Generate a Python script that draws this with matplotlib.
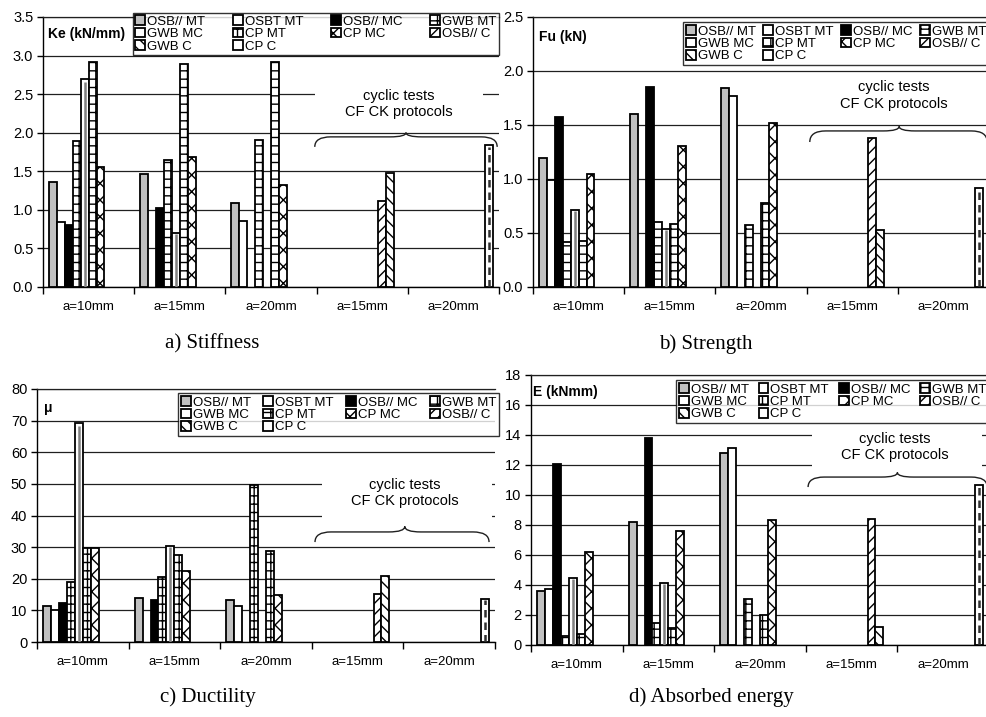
import numpy as np
import matplotlib
matplotlib.use("Agg")
import matplotlib.pyplot as plt
from matplotlib.path import Path
from matplotlib.patches import PathPatch, Rectangle

plt.rcParams['font.family'] = ['Liberation Sans', 'DejaVu Sans']
plt.rcParams['hatch.linewidth'] = 1.0

nan = np.nan
categories = ['a=10mm', 'a=15mm', 'a=20mm', 'a=15mm', 'a=20mm']
series = ['OSB// MT', 'OSBT MT', 'OSB// MC', 'GWB MT', 'GWB MC',
          'CP MT', 'CP MC', 'OSB// C', 'GWB C', 'CP C']

stiffness = [
    [1.36, 1.47, 1.09, nan, nan],
    [0.84, nan, 0.85, nan, nan],
    [0.80, 1.02, nan, nan, nan],
    [1.89, 1.64, 1.91, nan, nan],
    [2.70, 0.70, nan, nan, nan],
    [2.92, 2.89, 2.92, nan, nan],
    [1.56, 1.68, 1.32, nan, nan],
    [nan, nan, nan, 1.11, nan],
    [nan, nan, nan, 1.48, nan],
    [nan, nan, nan, nan, 1.84],
]
strength = [
    [1.19, 1.60, 1.84, nan, nan],
    [0.99, nan, 1.77, nan, nan],
    [1.57, 1.85, nan, nan, nan],
    [0.42, 0.60, 0.57, nan, nan],
    [0.71, 0.54, nan, nan, nan],
    [0.43, 0.58, 0.78, nan, nan],
    [1.05, 1.31, 1.52, nan, nan],
    [nan, nan, nan, 1.38, nan],
    [nan, nan, nan, 0.53, nan],
    [nan, nan, nan, nan, 0.92],
]
ductility = [
    [11.3, 13.9, 13.2, nan, nan],
    [10.0, nan, 11.4, nan, nan],
    [12.4, 13.2, nan, nan, nan],
    [19.1, 20.5, 49.5, nan, nan],
    [69.2, 30.4, nan, nan, nan],
    [29.6, 27.6, 28.9, nan, nan],
    [29.6, 22.4, 14.9, nan, nan],
    [nan, nan, nan, 15.1, nan],
    [nan, nan, nan, 20.9, nan],
    [nan, nan, nan, nan, 13.6],
]
energy = [
    [3.62, 8.18, 12.78, nan, nan],
    [3.73, nan, 13.11, nan, nan],
    [12.04, 13.82, nan, nan, nan],
    [0.60, 1.50, 3.04, nan, nan],
    [4.49, 4.11, nan, nan, nan],
    [0.71, 1.16, 2.02, nan, nan],
    [6.18, 7.62, 8.33, nan, nan],
    [nan, nan, nan, 8.38, nan],
    [nan, nan, nan, 1.22, nan],
    [nan, nan, nan, nan, 10.67],
]

ylabels = ['Ke (kN/mm)', 'Fu (kN)', '\u03bc', 'E (kNmm)']
captions = ['a) Stiffness', 'b) Strength', 'c) Ductility', 'd) Absorbed energy']
yticks = [np.arange(0, 3.51, 0.5), np.arange(0, 2.51, 0.5),
          np.arange(0, 81, 10), np.arange(0, 18.1, 2)]
yfmt = ['{:.1f}', '{:.1f}', '{:.0f}', '{:.0f}']
cyclic_text = 'cyclic tests\nCF CK protocols'

styles = [('#c0c0c0', ''), ('white', ''), ('black', ''), ('white', '++'),
          ('white', ''), ('white', '++'), ('white', 'xx'), ('white', '///'),
          ('white', '\\\\\\'), ('white', '')]
# series drawn with an extra line through the bar centre: index -> (colour, dash)
centre_lines = {4: ('#808080', 'solid'), 9: ('#303030', (0, (3, 2)))}

W, H = 986, 717
fig = plt.figure(figsize=(W / 100, H / 100), dpi=100)

boxes = [(43, 499, 17, 287), (533, 989, 17, 287), (37, 495, 389, 642), (531, 989, 375, 645)]
legend_box = [(0.197, 0.858, 0.803, 0.162), (0.329, 0.822, 0.671, 0.176),
              (0.308, 0.814, 0.70, 0.206), (0.317, 0.822, 0.683, 0.178)]
label_pos = [(0.012, 0.937), (0.013, 0.926), (0.015, 0.925), (0.005, 0.937)]
text_pos = [(0.781, 0.678), (0.792, 0.709), (0.803, 0.589), (0.795, 0.733)]
white_rect = [(0.596, 0.60, 0.37, 0.19), None, (0.622, 0.43, 0.371, 0.27), (0.614, 0.61, 0.37, 0.22)]
brace_geo = [(0.596, 0.996, 0.519, 0.556, 0.572, 0.796),
             (0.607, 0.996, 0.537, 0.578, 0.595, 0.803),
             (0.607, 0.987, 0.395, 0.435, 0.457, 0.803),
             (0.605, 0.996, 0.585, 0.622, 0.639, 0.800)]
cap_pos = [(212, 344), (706, 344), (208, 697), (711, 697)]
legend_order = [0, 4, 8, 1, 5, 9, 2, 6, 3, 7]   # row-wise filling for 4 columns

datasets = [stiffness, strength, ductility, energy]
w = 1 / 11.5
x = np.arange(len(categories))

for k in range(4):
    l, r, t, b = boxes[k]
    ax = fig.add_axes([l / W, 1 - b / H, (r - l) / W, (b - t) / H])
    data = datasets[k]
    handles = []
    for j, name in enumerate(series):
        fc, hatch = styles[j]
        vals = np.array(data[j], dtype=float)
        xpos = x + (j - 4.5) * w
        bc = ax.bar(xpos, vals, width=w, color=fc, edgecolor='black',
                    hatch=hatch, linewidth=1.3, zorder=3, label=name)
        handles.append(bc)
        if j in centre_lines:
            col, ls = centre_lines[j]
            m = ~np.isnan(vals)
            ax.vlines(xpos[m], 0, vals[m] * 0.985, colors=col, linestyles=[ls],
                      linewidth=1.8, zorder=4)
    ax.set_xlim(-0.5, 4.5)
    ax.set_ylim(yticks[k][0], yticks[k][-1])
    ax.set_yticks(yticks[k])
    ax.set_yticklabels([yfmt[k].format(v) for v in yticks[k]])
    ax.set_xticks(x)
    ax.set_xticklabels(categories)
    ax.set_xticks(np.arange(-0.5, 4.6, 1), minor=True)
    ax.tick_params(axis='x', which='major', length=0, pad=10, labelsize=9.5)
    ax.tick_params(axis='x', which='minor', length=5, width=1, direction='out')
    ax.tick_params(axis='y', length=4, width=1, direction='out', pad=3, labelsize=10.5)
    ax.grid(axis='y', color='#202020', linewidth=0.9, zorder=0)
    ax.set_axisbelow(True)
    ax.spines['right'].set_visible(False)
    ax.spines['top'].set_color('#202020')
    ax.spines['top'].set_linewidth(0.9)
    ax.spines['left'].set_linewidth(1.0)
    ax.spines['bottom'].set_linewidth(1.0)

    ax.text(label_pos[k][0], label_pos[k][1], ylabels[k], transform=ax.transAxes,
            fontsize=10, fontweight='bold', ha='left', va='center', zorder=6)

    leg = ax.legend(handles=[handles[i] for i in legend_order], ncol=4, loc='lower left',
                    bbox_to_anchor=legend_box[k], mode='expand', fontsize=9.5,
                    frameon=True, fancybox=False, edgecolor='black',
                    handlelength=0.75, handleheight=0.75, handletextpad=0.15,
                    labelspacing=0.0, borderpad=0.2, borderaxespad=0.0,
                    columnspacing=0.5)
    leg.get_frame().set_linewidth(1.0)
    leg.set_zorder(10)

    if white_rect[k] is not None:
        rx, ry, rw, rh = white_rect[k]
        ax.add_patch(Rectangle((rx, ry), rw, rh, transform=ax.transAxes,
                               facecolor='white', edgecolor='none', zorder=1))
    ax.text(text_pos[k][0], text_pos[k][1], cyclic_text, transform=ax.transAxes,
            ha='center', va='center', fontsize=10.5, linespacing=1.25, zorder=5)

    x0, x1, ylow, yflat, ytip, xc = brace_geo[k]
    rr = 0.035
    verts = [(x0, ylow), (x0, yflat), (x0 + rr, yflat),
             (xc - rr, yflat), (xc, yflat), (xc, ytip),
             (xc, yflat), (xc + rr, yflat),
             (x1 - rr, yflat), (x1, yflat), (x1, ylow)]
    codes = [Path.MOVETO, Path.CURVE3, Path.CURVE3,
             Path.LINETO, Path.CURVE3, Path.CURVE3,
             Path.CURVE3, Path.CURVE3,
             Path.LINETO, Path.CURVE3, Path.CURVE3]
    ax.add_patch(PathPatch(Path(verts, codes), transform=ax.transAxes,
                           facecolor='none', edgecolor='#202020', linewidth=1.0,
                           zorder=5, clip_on=False))

    cx, cy = cap_pos[k]
    fig.text(cx / W, 1 - cy / H, captions[k], ha='center', va='center',
             fontsize=15, family=['Liberation Serif', 'DejaVu Serif'])

fig.savefig('out.png', dpi=100)
